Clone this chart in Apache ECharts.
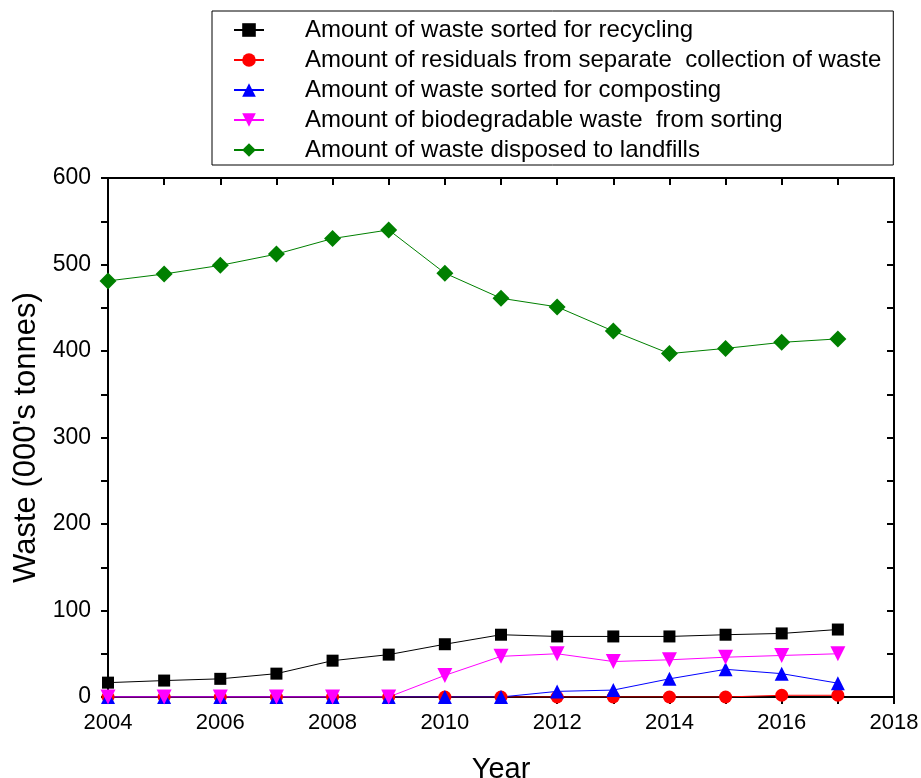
<!DOCTYPE html>
<html>
<head>
<meta charset="utf-8">
<script src="https://cdn.jsdelivr.net/npm/echarts@6/dist/echarts.min.js"></script>
<style>
html, body { margin: 0; padding: 0; background: #fff; }
#chart { width: 921px; height: 778px; }
</style>
</head>
<body>
<div id="chart"></div>
<script>
var years = [2004, 2005, 2006, 2007, 2008, 2009, 2010, 2011, 2012, 2013, 2014, 2015, 2016, 2017]
var recycling = [16.6, 19, 21, 27, 42, 49, 61, 72, 70, 70, 70, 72, 73.5, 78]
var residuals = [0, 0, 0, 0, 0, 0, 0, 0, 0, 0, 0, 0, 2, 2]
var composting = [0, 0, 0, 0, 0, 0, 0, 0, 6.5, 8, 21, 32, 27, 16]
var biodegradable = [0, 0, 0, 0, 0, 0, 25, 47, 50, 41, 43, 46, 48, 50]
var landfill = [481, 489, 499, 512, 530, 540, 490, 461, 451, 423, 397, 403, 410, 414]
var names = [
    'Amount of waste sorted for recycling',
    'Amount of residuals from separate  collection of waste',
    'Amount of waste sorted for composting',
    'Amount of biodegradable waste  from sorting',
    'Amount of waste disposed to landfills'
]

var FONT = '"Liberation Sans", Arial, sans-serif'

function pairs(vals){
    var out = []
    for (var i=0; i<years.length; i++){
        out.push([years[i], vals[i]])
    }
    return(out)
}

function makeSeries(name, vals, color, symbol, size){
    return {
        name: name,
        type: 'line',
        data: pairs(vals),
        symbol: symbol,
        symbolSize: size,
        showAllSymbol: true,
        itemStyle: { color: color },
        lineStyle: { color: color, width: 1 },
        emphasis: { disabled: true },
        animation: false
    }
}

var chart = echarts.init(document.getElementById('chart'))
var option = {
    backgroundColor: '#fff',
    legend: {
        orient: 'vertical',
        left: 212,
        top: 11,
        padding: [7, 12, 3, 21],
        itemWidth: 30,
        itemHeight: 17,
        itemGap: 6,
        borderColor: '#000',
        borderWidth: 1,
        borderRadius: 0,
        textStyle: {
            fontFamily: FONT,
            fontSize: 24,
            lineHeight: 24,
            color: '#000',
            padding: [0, 0, 0, 36]
        },
        data: names
    },
    grid: {
        left: 108,
        right: 27,
        top: 178,
        bottom: 81,
        containLabel: false,
        outerBoundsMode: 'none'
    },
    xAxis: [{
        type: 'value',
        min: 2004,
        max: 2018,
        interval: 2,
        name: 'Year',
        nameLocation: 'middle',
        nameGap: 58,
        nameTextStyle: { fontFamily: FONT, fontSize: 29, color: '#000' },
        axisLine: { onZero: false, lineStyle: { color: '#000', width: 2 } },
        axisTick: { show: true, length: 7, lineStyle: { color: '#000', width: 2 } },
        minorTick: { show: true, splitNumber: 2, length: 7, lineStyle: { color: '#000', width: 2 } },
        axisLabel: { fontFamily: FONT, fontSize: 22, color: '#000', margin: 15, formatter: function(v){ return String(v) } },
        splitLine: { show: false }
    }, {
        type: 'value',
        position: 'top',
        min: 2004,
        max: 2018,
        interval: 2,
        axisLine: { onZero: false, lineStyle: { color: '#000', width: 2 } },
        axisTick: { show: true, inside: true, length: 7, lineStyle: { color: '#000', width: 2 } },
        minorTick: { show: true, splitNumber: 2, length: 7, lineStyle: { color: '#000', width: 2 } },
        axisLabel: { show: false },
        splitLine: { show: false }
    }],
    yAxis: [{
        type: 'value',
        min: 0,
        max: 600,
        interval: 100,
        name: "Waste (000's tonnes)",
        nameLocation: 'middle',
        nameGap: 59,
        nameTextStyle: { fontFamily: FONT, fontSize: 31, color: '#000' },
        axisLine: { onZero: false, lineStyle: { color: '#000', width: 2 } },
        axisTick: { show: true, length: 7, lineStyle: { color: '#000', width: 2 } },
        minorTick: { show: true, splitNumber: 2, length: 7, lineStyle: { color: '#000', width: 2 } },
        axisLabel: { fontFamily: FONT, fontSize: 23, color: '#000', margin: 17 },
        splitLine: { show: false }
    }, {
        type: 'value',
        position: 'right',
        min: 0,
        max: 600,
        interval: 100,
        axisLine: { onZero: false, lineStyle: { color: '#000', width: 2 } },
        axisTick: { show: true, inside: true, length: 7, lineStyle: { color: '#000', width: 2 } },
        minorTick: { show: true, splitNumber: 2, length: 7, lineStyle: { color: '#000', width: 2 } },
        axisLabel: { show: false },
        splitLine: { show: false }
    }],
    series: [
        makeSeries(names[0], recycling, '#000000', 'rect', 12),
        makeSeries(names[1], residuals, '#ff0000', 'circle', 13),
        makeSeries(names[2], composting, '#0000ff', 'triangle', 14),
        makeSeries(names[3], biodegradable, '#ff00ff', 'path://M0,0 L10,0 L5,9 Z', 15),
        makeSeries(names[4], landfill, '#008000', 'diamond', 17)
    ]
}
chart.setOption(option)
</script>
</body>
</html>
